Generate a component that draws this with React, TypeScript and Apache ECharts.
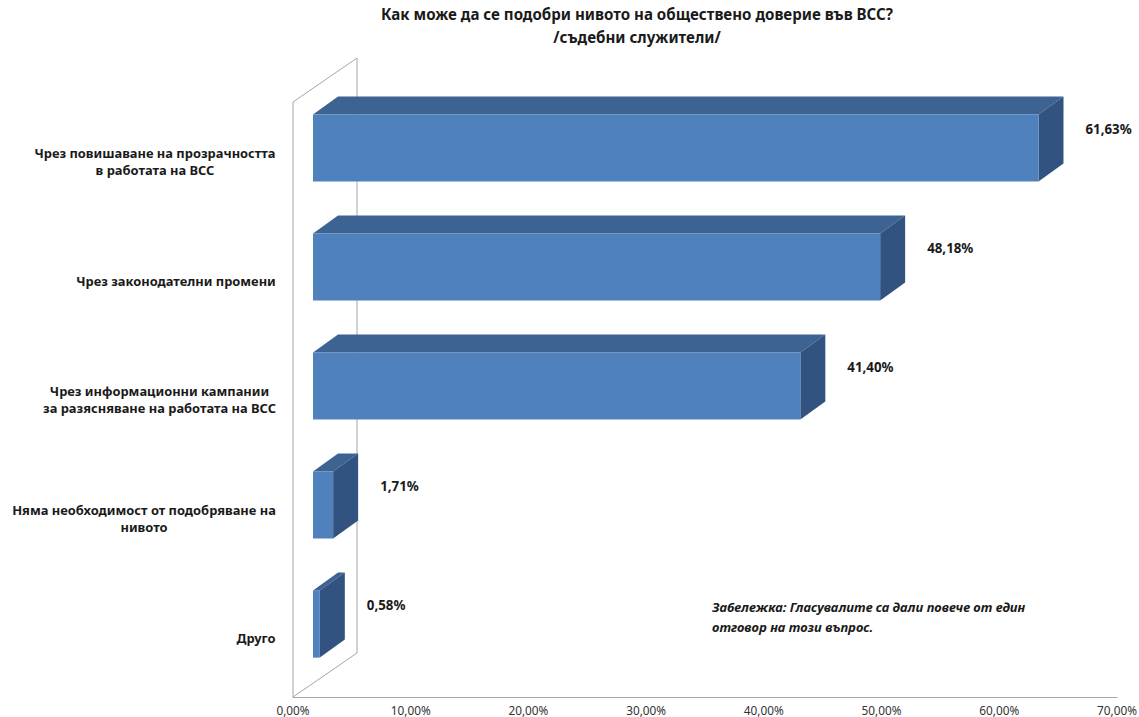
import React, { useEffect, useRef } from "react";
import * as echarts from "echarts";

const titleLines = ["Как може да се подобри нивото на обществено доверие във ВСС?", "/съдебни служители/"];
const categories = [
  "Чрез повишаване на прозрачността\nв работата на ВСС",
  "Чрез законодателни промени",
  "Чрез информационни кампании\nза разясняване на работата на ВСС",
  "Няма необходимост от подобряване на\nнивото",
  "Друго",
];
const values = [61.63, 48.18, 41.4, 1.71, 0.58];
const axisMin = 0;
const axisMax = 70;
const axisInterval = 10;
const noteLines = ["Забележка: Гласувалите са дали повече от един", "отговор на този въпрос."];

const fmt = (v: number) => v.toFixed(2).replace(".", ",") + "%";

const FONT = "'Noto Sans', 'DejaVu Sans', sans-serif";
const LABEL_SIZE = 12.9;
const VALUE_SIZE = 13.3;

export default function App() {
  const ref = useRef<HTMLDivElement>(null);
  useEffect(() => {
    if (!ref.current) return;
    const chart = echarts.init(ref.current, null, { renderer: "svg" });

    const canvas = document.createElement("canvas");
    const ctx = canvas.getContext("2d")!;
    ctx.font = `bold ${LABEL_SIZE}px ${FONT}`;
    const rich: any = {};
    const catKey: Record<string, string> = {};
    categories.forEach((c, i) => {
      const w = Math.ceil(Math.max(...c.split("\n").map((l) => ctx.measureText(l).width))) + 2;
      rich["c" + i] = {
        width: w,
        align: "center",
        fontFamily: FONT,
        fontWeight: "bold",
        fontSize: LABEL_SIZE,
        lineHeight: 16.5,
        color: "#1a1a1a",
      };
      catKey[c] = "c" + i;
    });

    const FDX = 20, FDY = -13.5; // bar front offset from front plane
    const DX = 25, DY = -18; // bar depth
    const WDX = 64, WDY = -44; // full wall depth

    const option: any = {
      animation: false,
      backgroundColor: "#ffffff",
      title: {
        text: titleLines.join("\n"),
        left: 632,
        top: -3,
        textAlign: "center",
        textStyle: { fontFamily: FONT, fontWeight: "bold", fontSize: 15.1, lineHeight: 23, color: "#1a1a1a" },
      },
      grid: {
        left: 293,
        right: 22,
        top: 102,
        bottom: 20,
        containLabel: false,
        outerBoundsMode: "none",
      },
      xAxis: {
        type: "value",
        min: axisMin,
        max: axisMax,
        interval: axisInterval,
        axisLine: { show: true, lineStyle: { color: "#A6A6A6", width: 1 } },
        axisTick: { show: false },
        splitLine: { show: false },
        axisLabel: {
          formatter: (v: number) => fmt(v),
          fontFamily: FONT,
          fontSize: 11.8,
          color: "#333333",
          margin: 7,
        },
      },
      yAxis: {
        type: "category",
        data: categories,
        inverse: true,
        axisLine: { show: false },
        axisTick: { show: false },
        splitLine: { show: false },
        axisLabel: {
          margin: 16,
          formatter: (v: string) =>
            v
              .split("\n")
              .map((l) => `{${catKey[v]}|${l}}`)
              .join("\n"),
          rich,
        },
      },
      graphic: [
        {
          type: "text",
          left: 712,
          top: 597,
          style: {
            text: noteLines.join("\n"),
            fontFamily: FONT,
            fontWeight: "bold",
            fontStyle: "italic",
            fontSize: 13,
            lineHeight: 20,
            fill: "#1a1a1a",
          },
        },
      ],
      series: [
        {
          type: "custom",
          clip: false,
          z: 1,
          data: [[0]],
          renderItem: (params: any, api: any) => {
            const cs = params.coordSys;
            const x = cs.x, y = cs.y, h = cs.height;
            return {
              type: "polygon",
              shape: {
                points: [
                  [x, y + h],
                  [x, y],
                  [x + WDX, y + WDY],
                  [x + WDX, y + h + WDY],
                ],
              },
              style: { fill: "none", stroke: "#A6A6A6", lineWidth: 1 },
            };
          },
        },
        {
          type: "custom",
          clip: false,
          z: 2,
          encode: { x: 0, y: 1 },
          data: values.map((v, i) => [v, i]),
          renderItem: (params: any, api: any) => {
            const v = api.value(0);
            const cat = api.value(1);
            const p0 = api.coord([0, cat]);
            const p1 = api.coord([v, cat]);
            const band = api.size([0, 1])[1];
            const bh = band * 0.565;
            const fx0 = p0[0] + FDX;
            const fx1 = p1[0] + FDX;
            const cy = p0[1] + FDY;
            const fy0 = cy - bh / 2;
            const fy1 = cy + bh / 2;
            return {
              type: "group",
              children: [
                {
                  type: "polygon",
                  shape: { points: [[fx0, fy0], [fx1, fy0], [fx1 + DX, fy0 + DY], [fx0 + DX, fy0 + DY]] },
                  style: { fill: "#3D6392" },
                },
                {
                  type: "polygon",
                  shape: { points: [[fx1, fy0], [fx1 + DX, fy0 + DY], [fx1 + DX, fy1 + DY], [fx1, fy1]] },
                  style: { fill: "#32537F" },
                },
                {
                  type: "rect",
                  shape: { x: fx0, y: fy0, width: fx1 - fx0, height: bh },
                  style: { fill: "#4F81BD" },
                },
                {
                  type: "text",
                  x: fx1 + DX + 22,
                  y: fy0 + 15,
                  style: {
                    text: fmt(v),
                    fontFamily: FONT,
                    fontWeight: "bold",
                    fontSize: VALUE_SIZE,
                    fill: "#1a1a1a",
                    textAlign: "left",
                    textVerticalAlign: "middle",
                  },
                },
              ],
            };
          },
        },
      ],
    };
    chart.setOption(option);
    return () => chart.dispose();
  }, []);
  return (
    <div
      ref={ref}
      style={{ position: "absolute", left: 0, top: 0, width: 1139, height: 717 }}
    />
  );
}
